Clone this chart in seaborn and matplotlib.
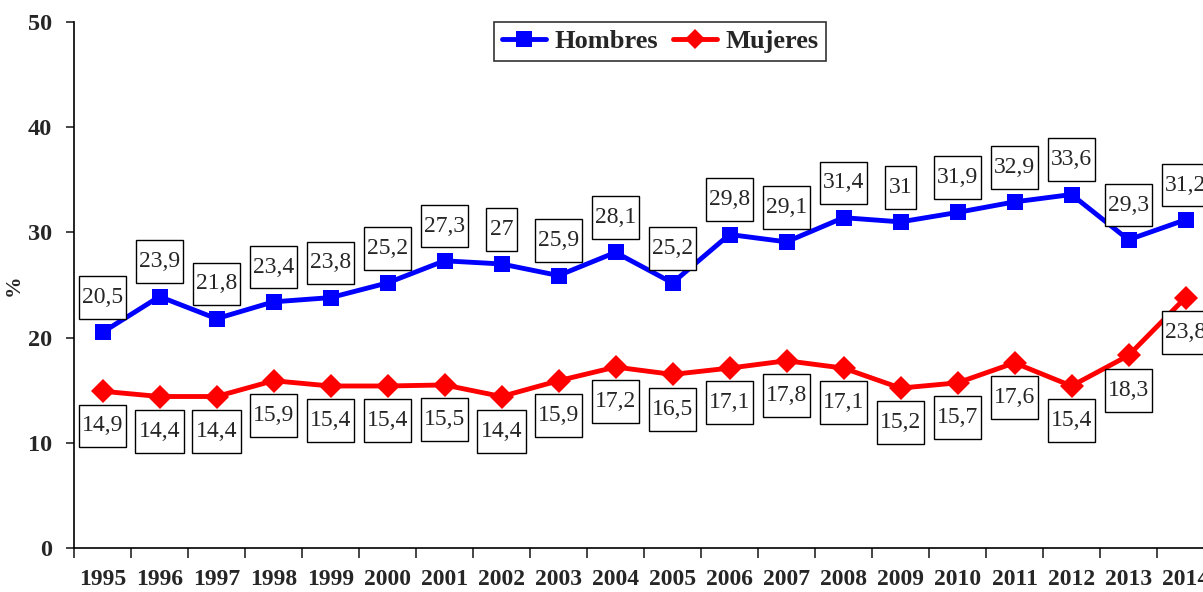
import matplotlib
matplotlib.use("Agg")
import matplotlib.pyplot as plt
from matplotlib.lines import Line2D
from matplotlib.path import Path
import seaborn as sns
import pandas as pd
import numpy as np

years = [str(y) for y in range(1995, 2015)]
hombres = [20.5, 23.9, 21.8, 23.4, 23.8, 25.2, 27.3, 27.0, 25.9, 28.1,
           25.2, 29.8, 29.1, 31.4, 31.0, 31.9, 32.9, 33.6, 29.3, 31.2]
mujeres = [14.9, 14.4, 14.4, 15.9, 15.4, 15.4, 15.5, 14.4, 15.9, 17.2,
           16.5, 17.1, 17.8, 17.1, 15.2, 15.7, 17.6, 15.4, 18.3, 23.8]

sns.set_style("white")
plt.rcParams["font.family"] = ["Liberation Serif", "DejaVu Serif"]

df = pd.DataFrame({"pos": np.arange(len(years)), "Hombres": hombres, "Mujeres": mujeres})

fig = plt.figure(figsize=(12.03, 5.92), dpi=100)
ax = fig.add_axes([74 / 1203, 44 / 592, 1140 / 1203, 526 / 592])

sns.lineplot(data=df, x="pos", y="Hombres", ax=ax, color="#0000ff", lw=3.5,
             marker="s", markersize=12, markeredgewidth=0, clip_on=False)
sns.lineplot(data=df, x="pos", y="Mujeres", ax=ax, color="#ff0000", lw=3.5,
             marker="D", markersize=12, markeredgewidth=0, clip_on=False)


def label_box(x0, y0, width, height, mutation_size):
    px = 0.14 * mutation_size
    py = 0.46 * mutation_size
    x0, y0 = x0 - px, y0 - py
    x1, y1 = x0 + width + 2 * px, y0 + height + 2 * py
    return Path([(x0, y0), (x1, y0), (x1, y1), (x0, y1), (x0, y0)], closed=True)


def fmt(v):
    s = f"{v:.1f}".replace(".", ",")
    return s[:-2] if s.endswith(",0") else s


for i, v in enumerate(hombres):
    ax.annotate(fmt(v), (i, v), xytext=(0, 25), textcoords="offset points",
                ha="center", va="center", fontsize=17, annotation_clip=False,
                bbox=dict(boxstyle=label_box, fc="white", ec="black", lw=1))
for i, v in enumerate(mujeres):
    ax.annotate(fmt(v), (i, v), xytext=(0, -25), textcoords="offset points",
                ha="center", va="center", fontsize=17, annotation_clip=False,
                bbox=dict(boxstyle=label_box, fc="white", ec="black", lw=1))

ax.set_xlim(-0.5, len(years) - 0.5)
ax.set_ylim(0, 50)
ax.set_yticks(range(0, 51, 10))
ax.set_xticks(range(len(years)))
ax.set_xticklabels(years)
ax.set_xticks(np.arange(-0.5, len(years), 1.0), minor=True)
ax.tick_params(axis="x", which="major", length=0, pad=15, labelsize=17)
ax.tick_params(axis="x", which="minor", length=7, width=1.2, direction="out", bottom=True)
ax.tick_params(axis="y", length=6, width=1.2, direction="out", left=True, pad=10, labelsize=17.5)
for lab in ax.get_xticklabels() + ax.get_yticklabels():
    lab.set_fontweight("bold")

ax.set_xlabel("")
ax.set_ylabel("%", fontsize=15.5, fontweight="bold")
ax.yaxis.set_label_coords(-50 / 1140, 0.5)
for side in ["top", "right"]:
    ax.spines[side].set_visible(False)
for side in ["left", "bottom"]:
    ax.spines[side].set_color("black")
    ax.spines[side].set_linewidth(1.2)

handles = [
    Line2D([], [], color="#0000ff", lw=3.5, marker="s", markersize=11, markeredgewidth=0),
    Line2D([], [], color="#ff0000", lw=3.5, marker="D", markersize=10.5, markeredgewidth=0),
]
leg = ax.legend(handles, ["Hombres", "Mujeres"], loc="upper center",
                bbox_to_anchor=(586 / 1140, 1.0), ncol=2, frameon=True, fancybox=False,
                prop={"weight": "bold", "size": 19}, handlelength=1.7,
                columnspacing=0.55, handletextpad=0.3, borderpad=0.3, borderaxespad=0)
leg.get_frame().set_edgecolor("black")
leg.get_frame().set_linewidth(1.2)

fig.savefig("out.png", dpi=100)
